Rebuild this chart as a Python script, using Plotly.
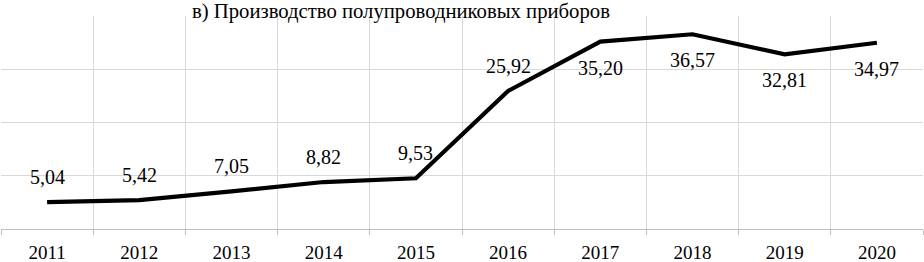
import plotly.graph_objects as go

years = ["2011", "2012", "2013", "2014", "2015", "2016", "2017", "2018", "2019", "2020"]
values = [5.04, 5.42, 7.05, 8.82, 9.53, 25.92, 35.20, 36.57, 32.81, 34.97]
labels = ["5,04", "5,42", "7,05", "8,82", "9,53", "25,92", "35,20", "36,57", "32,81", "34,97"]
label_above = [True, True, True, True, True, True, False, False, False, False]
title = "в) Производство полупроводниковых приборов"

FONT = "Liberation Serif, Times New Roman, serif"

fig = go.Figure()
fig.add_trace(go.Scatter(
    x=years, y=values, mode="lines",
    line=dict(color="black", width=4.2),
    hoverinfo="skip", showlegend=False,
))

for i, (v, t, above) in enumerate(zip(values, labels, label_above)):
    fig.add_annotation(
        x=i, y=v, text=t, showarrow=False,
        yshift=25 if above else -26,
        font=dict(family=FONT, size=20, color="black"),
    )

fig.add_annotation(
    xref="paper", yref="paper", x=0.434, y=1.0, yshift=5,
    text=title, showarrow=False, yanchor="middle",
    font=dict(family=FONT, size=20.7, color="black"),
)

fig.update_layout(
    width=924, height=262,
    margin=dict(l=1, r=1, t=16, b=33),
    paper_bgcolor="white", plot_bgcolor="white",
    xaxis=dict(
        type="category", tickson="boundaries", range=[-0.5, 9.5],
        showgrid=True, gridcolor="#d9d9d9", gridwidth=1,
        ticks="outside", ticklen=5, tickcolor="#bfbfbf",
        ticklabelstandoff=6, automargin=False,
        showline=True, linecolor="#bfbfbf", linewidth=1,
        tickfont=dict(family=FONT, size=19, color="black"),
        zeroline=False,
    ),
    yaxis=dict(
        range=[0, 40], dtick=10, showgrid=True, gridcolor="#d9d9d9", gridwidth=1,
        showticklabels=False, zeroline=False, showline=False, automargin=False,
    ),
)

fig.write_html("out.html", config={"displayModeBar": False},
               post_script="document.body.style.margin='0';")
